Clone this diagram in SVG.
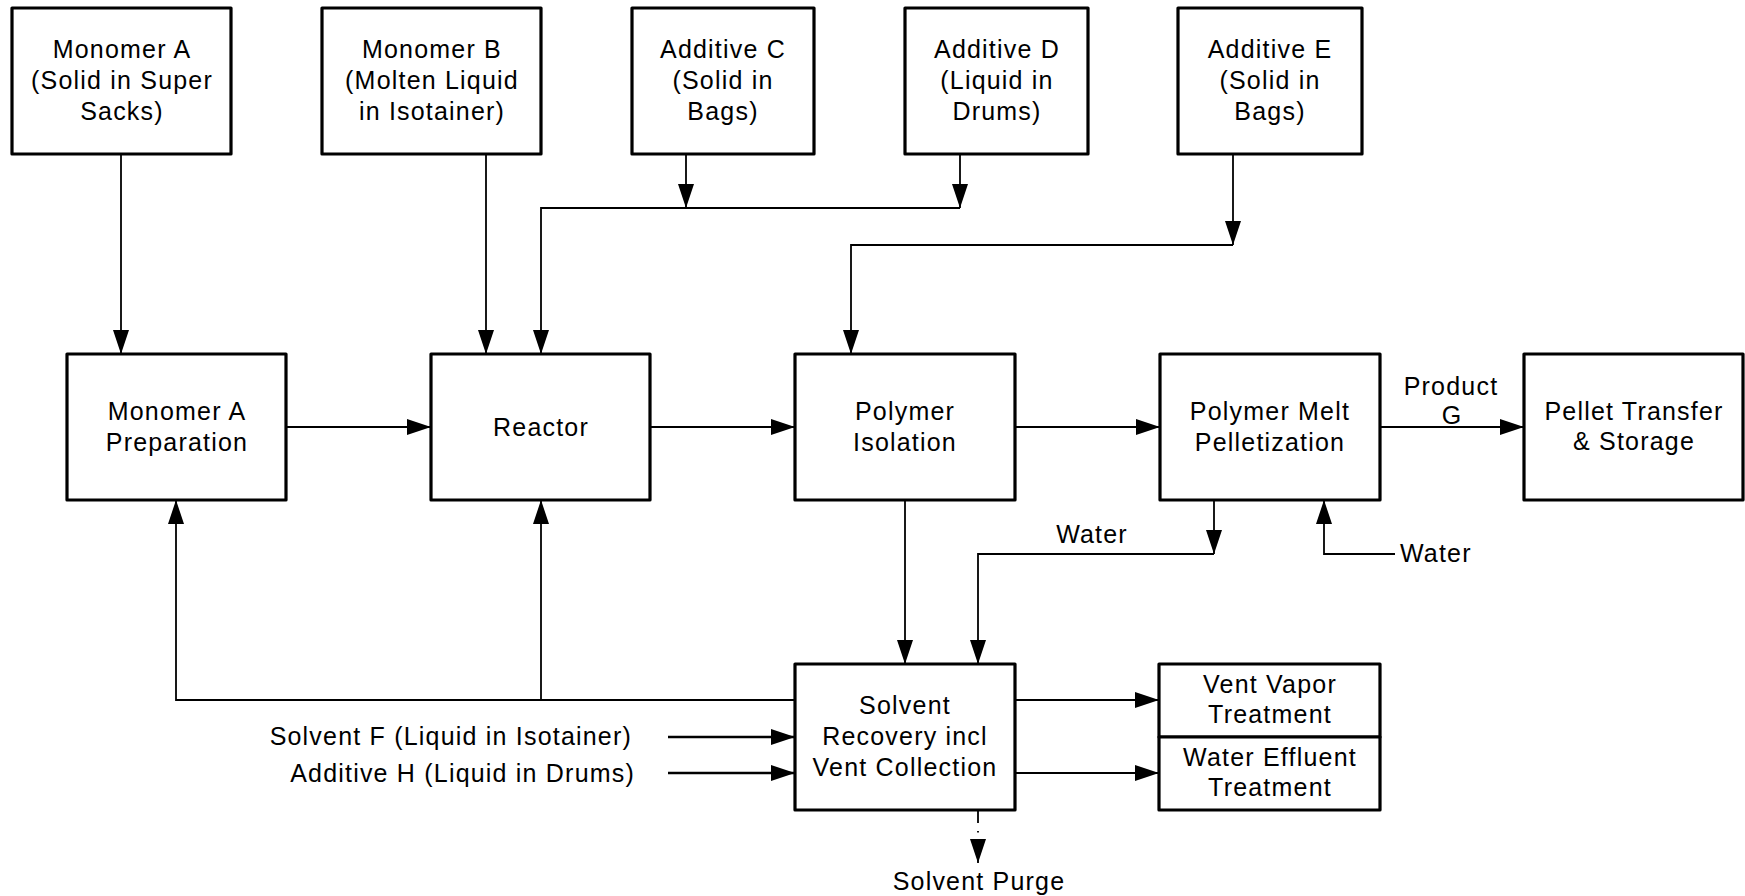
<svg xmlns="http://www.w3.org/2000/svg" width="1745" height="896" viewBox="0 0 1745 896">
<style>
  .box { fill: #ffffff; stroke: #000000; stroke-width: 3.2; stroke-linejoin: round; }
  .t { font-family: "Liberation Sans", Arial, sans-serif; font-size: 25px; letter-spacing: 1.2px; fill: #000000; text-anchor: middle; }
  .l { font-family: "Liberation Sans", Arial, sans-serif; font-size: 25px; letter-spacing: 1.2px; fill: #000000; }
  .c { fill: none; stroke: #000000; stroke-width: 1.8; }
  .cb { fill: none; stroke: #000000; stroke-width: 2.5; }
</style>
<defs>
  <marker id="ah" viewBox="0 0 24 16" markerWidth="24" markerHeight="16" refX="24" refY="8" markerUnits="userSpaceOnUse" orient="auto">
    <path d="M0,0 L24,8 L0,16 z" fill="#000000"/>
  </marker>
</defs>
<rect width="1745" height="896" fill="#ffffff"/>

<g id="connectors">
  <path class="c" d="M121,154 V354" marker-end="url(#ah)"/>
  <path class="c" d="M486,154 V354" marker-end="url(#ah)"/>
  <path class="c" d="M686,154 V208" marker-end="url(#ah)"/>
  <path class="c" d="M960,154 V208" marker-end="url(#ah)"/>
  <path class="c" d="M960,208 H541 V354" marker-end="url(#ah)"/>
  <path class="c" d="M1233,154 V245" marker-end="url(#ah)"/>
  <path class="c" d="M1233,245 H851 V354" marker-end="url(#ah)"/>
  <path class="c" d="M286,427 H431" marker-end="url(#ah)"/>
  <path class="c" d="M650,427 H795" marker-end="url(#ah)"/>
  <path class="c" d="M1015,427 H1160" marker-end="url(#ah)"/>
  <path class="c" d="M1380,427 H1524" marker-end="url(#ah)"/>
  <path class="c" d="M905,500 V664" marker-end="url(#ah)"/>
  <path class="c" d="M1214,500 V554" marker-end="url(#ah)"/>
  <path class="c" d="M1214,554 H978 V664" marker-end="url(#ah)"/>
  <path class="c" d="M1395,554 H1324 V500" marker-end="url(#ah)"/>
  <path class="c" d="M795,700 H176 V500" marker-end="url(#ah)"/>
  <path class="c" d="M541,700 V500" marker-end="url(#ah)"/>
  <path class="cb" d="M668,737 H795" marker-end="url(#ah)"/>
  <path class="cb" d="M668,773 H795" marker-end="url(#ah)"/>
  <path class="c" d="M1015,700 H1159" marker-end="url(#ah)"/>
  <path class="c" d="M1015,773 H1159" marker-end="url(#ah)"/>
  <path class="c" d="M978,810 V840" stroke-dasharray="13 8 1.5 8"/>
  <path class="c" d="M978,839 V863" stroke="none" marker-end="url(#ah)"/>
</g>

<g id="monomerA">
  <rect class="box" x="12" y="8" width="219" height="146"/>
  <text class="t" x="122" y="57.5">Monomer A</text>
  <text class="t" x="122" y="88.5">(Solid in Super</text>
  <text class="t" x="122" y="119.5">Sacks)</text>
</g>
<g id="monomerB">
  <rect class="box" x="322" y="8" width="219" height="146"/>
  <text class="t" x="432" y="57.5">Monomer B</text>
  <text class="t" x="432" y="88.5">(Molten Liquid</text>
  <text class="t" x="432" y="119.5">in Isotainer)</text>
</g>
<g id="additiveC">
  <rect class="box" x="632" y="8" width="182" height="146"/>
  <text class="t" x="723" y="57.5">Additive C</text>
  <text class="t" x="723" y="88.5">(Solid in</text>
  <text class="t" x="723" y="119.5">Bags)</text>
</g>
<g id="additiveD">
  <rect class="box" x="905" y="8" width="183" height="146"/>
  <text class="t" x="997" y="57.5">Additive D</text>
  <text class="t" x="997" y="88.5">(Liquid in</text>
  <text class="t" x="997" y="119.5">Drums)</text>
</g>
<g id="additiveE">
  <rect class="box" x="1178" y="8" width="184" height="146"/>
  <text class="t" x="1270" y="57.5">Additive E</text>
  <text class="t" x="1270" y="88.5">(Solid in</text>
  <text class="t" x="1270" y="119.5">Bags)</text>
</g>

<g id="monomerAPrep">
  <rect class="box" x="67" y="354" width="219" height="146"/>
  <text class="t" x="177" y="419.5">Monomer A</text>
  <text class="t" x="177" y="450.5">Preparation</text>
</g>
<g id="reactor">
  <rect class="box" x="431" y="354" width="219" height="146"/>
  <text class="t" x="541" y="436">Reactor</text>
</g>
<g id="polymerIsolation">
  <rect class="box" x="795" y="354" width="220" height="146"/>
  <text class="t" x="905" y="419.5">Polymer</text>
  <text class="t" x="905" y="450.5">Isolation</text>
</g>
<g id="pelletization">
  <rect class="box" x="1160" y="354" width="220" height="146"/>
  <text class="t" x="1270" y="419.5">Polymer Melt</text>
  <text class="t" x="1270" y="450.5">Pelletization</text>
</g>
<g id="pelletTransfer">
  <rect class="box" x="1524" y="354" width="219" height="146"/>
  <text class="t" x="1634" y="419.5">Pellet Transfer</text>
  <text class="t" x="1634" y="449.5">&amp; Storage</text>
</g>

<g id="solventRecovery">
  <rect class="box" x="795" y="664" width="220" height="146"/>
  <text class="t" x="905" y="713.5">Solvent</text>
  <text class="t" x="905" y="745">Recovery incl</text>
  <text class="t" x="905" y="776">Vent Collection</text>
</g>
<g id="ventVapor">
  <rect class="box" x="1159" y="664" width="221" height="73"/>
  <text class="t" x="1270" y="693">Vent Vapor</text>
  <text class="t" x="1270" y="723">Treatment</text>
</g>
<g id="waterEffluent">
  <rect class="box" x="1159" y="737" width="221" height="73"/>
  <text class="t" x="1270" y="766">Water Effluent</text>
  <text class="t" x="1270" y="796">Treatment</text>
</g>

<g id="labels">
  <text class="t" x="1451" y="394.5">Product</text>
  <text class="t" x="1452" y="423.5">G</text>
  <text class="t" x="1092" y="543">Water</text>
  <text class="l" x="1400" y="562">Water</text>
  <text class="l" x="632" y="745" text-anchor="end">Solvent F (Liquid in Isotainer)</text>
  <text class="l" x="635" y="781.5" text-anchor="end">Additive H (Liquid in Drums)</text>
  <text class="t" x="979" y="890">Solvent Purge</text>
</g>
</svg>
